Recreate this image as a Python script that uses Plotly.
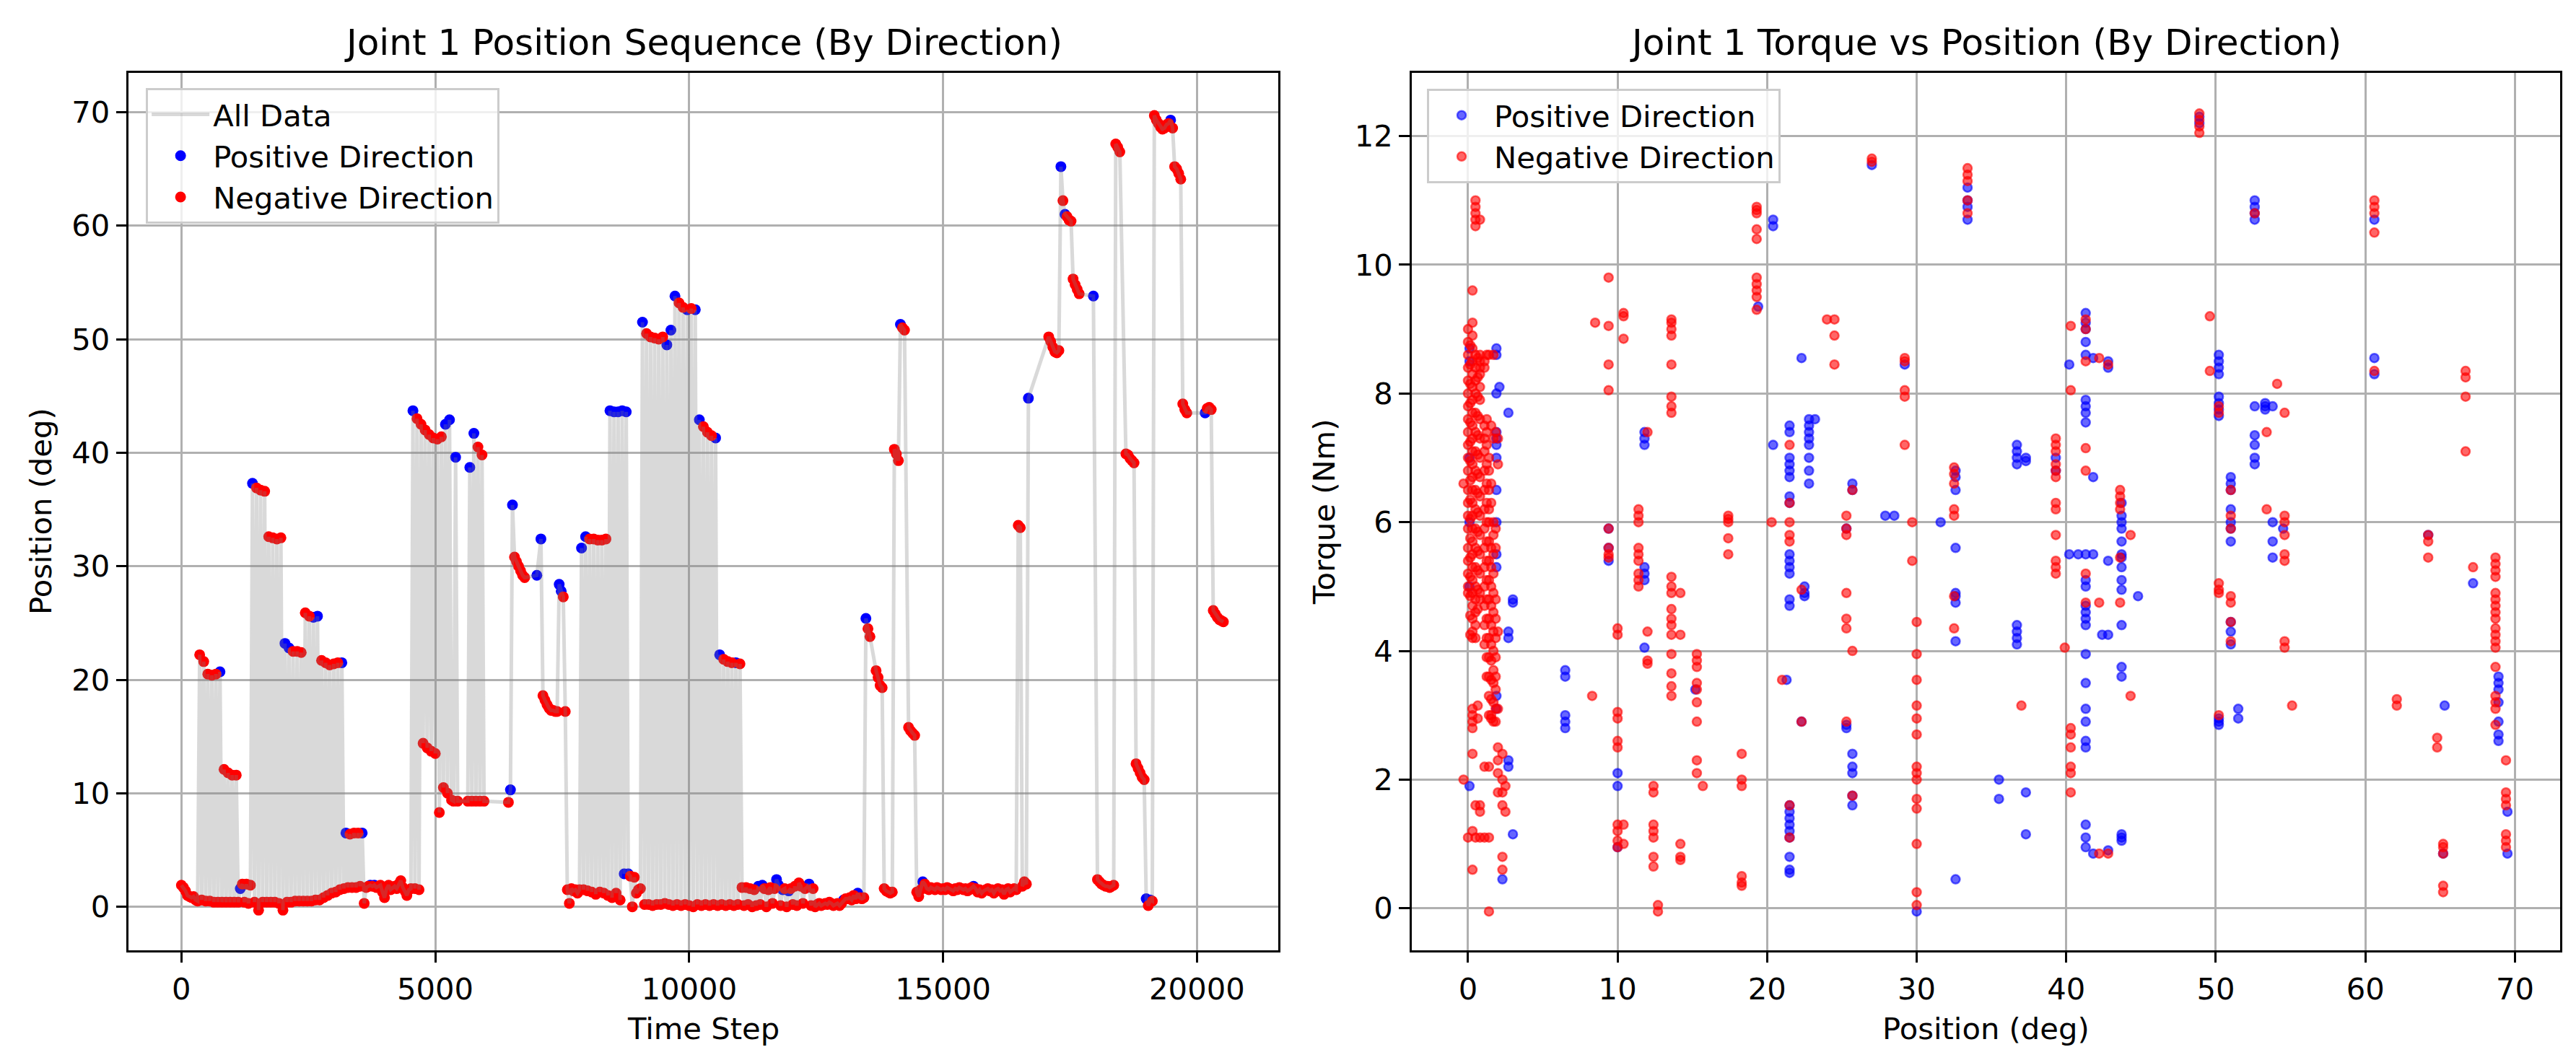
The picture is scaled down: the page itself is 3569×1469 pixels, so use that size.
import plotly.graph_objects as go

# ---- left panel: joint 1 position sampled every 40 time steps (None = no sample shown)
time_step = list(range(0, 20560, 40))
joint_position = [
    1.9, 1.7, 1.4, 1.0, 0.9, 0.8, 0.9, 0.6, 0.5, 22.2, 0.6, 21.6, 0.5, 20.5, 0.5, 20.4, 0.4, 20.5, 0.4, 20.7, 0.4, 12.1, 0.4, 11.8, 0.4,
    11.6, 0.4, 11.6, 0.4, 1.6, 2.0, 0.4, 2.0, 0.3, 1.9, 37.3, 0.4, 36.9, -0.3, 36.7, 0.4, 36.6, 0.4, 32.6, 0.4, 32.5, 0.4, 32.4, 0.3, 32.5,
    -0.3, 23.2, 0.4, 22.8, 0.4, 22.5, 0.5, 22.5, 0.5, 22.4, 0.5, 25.9, 0.5, 25.6, 0.5, 25.5, 0.6, 25.6, 0.6, 21.7, 0.8, 21.5, 1.0, 21.3, 1.2,
    21.4, 1.3, 21.5, 1.5, 21.5, 1.6, 6.5, 1.7, 6.4, 1.7, 6.5, 1.7, 6.5, 1.8, 6.5, 0.3, 1.7, 1.8, 1.9, 1.8, 1.9, 1.7, 1.8, 1.9, 1.3,
    0.8, 1.6, 1.9, 1.5, 1.7, 1.8, 1.6, 2.0, 2.3, 1.7, 1.4, 1.0, 1.5, 1.6, 43.7, 1.6, 43.0, 1.5, 42.5, 14.4, 42.0, 14.0, 41.6, 13.7, 41.3,
    13.5, 41.2, 8.3, 41.4, 10.5, 42.5, 10.0, 42.9, 9.4, 9.3, 39.6, 9.3, None, None, None, None, 9.3, 38.7, 9.3, 41.7, 9.3, 40.5, 9.3, 39.8, 9.3,
    None, None, None, None, None, None, None, None, None, None, None, 9.2, 10.3, 35.4, 30.8, 30.4, 30.0, 29.6, 29.2, 29.0, None, None, None, None, None,
    29.2, None, 32.4, 18.6, 18.2, 17.8, 17.5, 17.3, 17.3, 17.2, 17.2, 28.4, 27.8, 27.3, 17.2, 1.5, 0.3, 1.6, 1.4, 1.5, 1.2, 1.5, 31.6, 1.5, 32.6,
    1.4, 32.4, 1.3, 32.4, 1.1, 32.3, 1.3, 32.3, 1.2, 32.4, 1.0, 43.7, 0.8, 43.6, 1.2, 43.6, 0.6, 43.7, 2.9, 43.6, 2.9, 2.7, 0.0, 2.6, 1.2,
    1.5, 1.6, 51.5, 0.2, 50.5, 0.2, 50.2, 0.1, 50.1, 0.2, 50.0, 0.2, 50.2, 0.3, 49.5, 0.2, 50.8, 0.1, 53.8, 0.2, 53.2, 0.1, 52.8, 0.2, 52.6,
    0.1, 52.7, 0.0, 52.6, 0.2, 42.9, 0.1, 42.3, 0.2, 41.8, 0.1, 41.5, 0.2, 41.3, 0.1, 22.2, 0.2, 21.8, 0.1, 21.6, 0.2, 21.5, 0.1, 21.5, 0.2,
    21.4, 1.7, 0.1, 1.7, 0.2, 1.6, 0.0, 1.5, 0.1, 1.8, 0.2, 1.9, 1.6, 0.0, 1.5, 1.7, 0.3, 1.6, 2.4, 1.9, 0.1, 1.5, 1.6, 0.0, 1.4,
    1.6, 0.2, 1.8, 0.1, 2.1, 1.8, 0.3, 1.6, 1.7, 2.0, 0.1, 1.6, 0.0, 0.2, 0.3, 0.1, 0.2, 0.3, 0.2, 0.4, 0.3, 0.1, 0.2, 0.3, 0.1,
    0.3, 0.6, 0.7, 0.7, 0.8, 0.6, 1.0, 0.7, 1.2, 0.8, 0.7, 0.8, 25.4, 24.5, 23.8, None, None, 20.8, 20.2, 19.5, 19.3, 1.6, 1.4, 1.3, 1.2,
    1.3, 40.3, 39.9, 39.3, 51.3, 51.0, 50.8, None, 15.8, 15.5, 15.3, 15.1, 1.3, 0.9, 1.5, 2.2, 2.0, 1.6, 1.5, 1.7, 1.6, 1.5, 1.7, 1.6, 1.5,
    1.6, 1.5, 1.7, 1.6, 1.5, 1.4, 1.6, 1.5, 1.7, 1.6, 1.5, 1.6, 1.4, 1.5, 1.7, 1.8, 1.6, 1.3, 1.5, 1.2, 1.4, 1.5, 1.6, 1.4, 1.5,
    1.2, 1.5, 1.6, 1.4, 1.5, 1.1, 1.5, 1.6, 1.3, 1.5, 1.6, 1.5, 33.6, 33.4, 1.8, 2.2, 2.0, 44.8, None, None, None, None, None, None, None,
    None, None, 50.2, 49.8, 49.3, 48.9, 48.8, 49.0, 65.2, 62.2, 61.0, 60.8, 60.5, 60.4, 55.3, 54.8, 54.4, 54.0, None, None, None, None, None, None, 53.8,
    None, 2.4, 2.2, 2.0, 1.9, 1.8, 1.8, 1.7, 1.8, 1.9, 67.2, 66.9, 66.5, None, None, 39.9, 39.8, 39.5, 39.3, 39.1, 12.6, 12.2, 11.8, 11.4, 11.2,
    0.7, 0.1, 0.6, 0.5, 69.7, 69.3, 69.0, 68.7, 68.5, 68.6, 68.9, 69.0, 69.3, 68.6, 65.2, 65.0, 64.6, 64.1, 44.3, 43.8, 43.5, None, None, None, None,
    None, None, None, None, 43.5, 43.9, 44.0, 43.8, 26.1, 25.8, 25.5, 25.3, 25.2, 25.1,
]
# time steps whose motion direction was positive
positive_steps = [
    760, 1160, 1400, 2040, 2120, 2600, 2680, 3160, 3240, 3560, 3720, 3800, 4560, 5200, 5280,
    5400, 5680, 5760, 6480, 6520, 7000, 7080, 7440, 7480, 7880, 7960, 8440, 8520, 8600, 8680,
    8720, 8760, 8800, 9080, 9560, 9640, 9720, 9960, 10120, 10200, 10520, 10600, 10920, 11360,
    11440, 11720, 11760, 11840, 11960, 12320, 12360, 13040, 13320, 13480, 14160, 14600, 15600,
    16680, 17320, 17400, 17960, 19000, 19080, 19480, 20160,
]

# ---- right panel: torque vs position, (position, [torques]) per visited position
positive_clusters = [
    (0.1, [8.7, 8.5, 7.0, 6.0, 5.0, 1.9]),
    (1.9, [8.7, 8.6, 8.0, 7.4, 7.3, 7.2, 7.0, 6.5, 6.0, 5.5, 5.3, 3.3, 3.1]),
    (2.1, [8.1]), (2.3, [0.45]),
    (2.7, [7.7, 4.3, 4.2, 2.3, 2.2]),
    (3.0, [4.8, 4.75, 1.15]),
    (6.5, [3.7, 3.6, 3.0, 2.9, 2.8]),
    (9.4, [5.9, 5.6, 5.4]),
    (10.0, [2.1, 1.9, 0.95]),
    (11.8, [7.4, 7.3, 7.2, 5.3, 5.2, 5.1, 4.05]),
    (15.2, [3.4]), (19.4, [9.35]),
    (20.4, [10.7, 10.6, 7.2]), (21.3, [3.55]),
    (21.5, [7.5, 7.4, 7.0, 6.9, 6.8, 6.7, 6.4, 6.3, 5.5, 5.4, 5.3, 5.2, 4.8, 4.7,
            1.6, 1.5, 1.4, 1.3, 1.2, 1.1, 0.8, 0.6, 0.55]),
    (22.3, [8.55, 2.9]), (22.5, [5.0, 4.9, 4.85]),
    (22.8, [7.6, 7.5, 7.4, 7.3, 7.2, 7.0, 6.8, 6.6]), (23.2, [7.6]),
    (25.3, [5.9, 2.85, 2.8]),
    (25.7, [6.6, 6.5, 2.4, 2.2, 2.1, 1.75, 1.6]),
    (27.0, [11.55]), (27.9, [6.1]), (28.5, [6.1]), (29.2, [8.45]), (30.0, [-0.05]), (31.6, [6.0]),
    (32.6, [6.8, 6.7, 6.5, 5.6, 4.9, 4.85, 4.75, 4.15, 0.45]),
    (33.4, [11.2, 11.0, 10.9, 10.7]),
    (35.5, [2.0, 1.7]),
    (36.7, [7.2, 7.1, 7.0, 6.9, 4.4, 4.3, 4.2, 4.1]),
    (37.3, [7.0, 6.95, 1.8, 1.15]),
    (39.3, [7.0, 6.8]), (40.2, [8.45, 5.5]), (40.8, [5.5]),
    (41.3, [9.25, 9.1, 9.0, 8.8, 8.6, 7.9, 7.8, 7.7, 7.55, 5.5, 5.1, 5.0, 4.7, 4.6, 4.5, 4.4,
            3.95, 3.5, 3.1, 2.9, 2.6, 2.5, 1.3, 1.1, 0.95]),
    (41.8, [8.55, 6.7, 5.5, 0.85]), (42.4, [4.25]),
    (42.8, [8.5, 8.4, 4.25, 0.9, 5.4]),
    (43.7, [6.3, 6.1, 6.0, 5.9, 5.7, 5.5, 5.45, 5.3, 5.1, 4.95, 4.4, 3.75, 3.6, 1.15, 1.1, 1.05]),
    (44.8, [4.85]), (48.9, [12.3, 12.2]),
    (50.2, [8.6, 8.5, 8.4, 8.3, 7.95, 7.85, 7.75, 7.65, 2.95, 2.9, 2.85]),
    (51.0, [6.7, 6.6, 6.5, 6.2, 6.0, 5.9, 5.7, 4.45, 4.3, 4.1]),
    (51.5, [3.1, 2.95]),
    (52.6, [11.0, 10.9, 10.8, 10.7, 7.8, 7.35, 7.2, 7.0, 6.9]),
    (53.3, [7.85, 7.8, 7.75]), (53.8, [7.8, 6.0, 5.7, 5.45]), (54.5, [5.9]),
    (60.6, [10.7, 8.55, 8.3]), (64.2, [5.8]), (65.2, [0.85]), (65.3, [3.15]), (67.2, [5.05]),
    (68.9, [3.6, 3.5, 3.4, 3.2, 2.9, 2.7, 2.6]), (69.5, [1.5, 0.85]),
]
negative_clusters = [
    (-0.3, [6.6, 2.0]),
    (0.0, [9.0, 8.8, 8.6, 8.4, 8.2, 8.0, 7.8, 7.6, 7.4, 7.2, 7.0, 6.8, 6.5, 6.3, 6.1, 5.9, 5.6,
           5.4, 5.2, 5.0, 4.9, 1.1]),
    (0.15, [8.75, 8.45, 8.15, 7.85, 7.55, 7.25, 6.95, 6.65, 6.35, 6.05, 5.75, 5.45, 5.15, 4.85,
            4.55, 4.25]),
    (0.3, [9.6, 9.1, 8.9, 8.7, 8.5, 8.3, 8.1, 7.9, 7.7, 7.5, 7.3, 7.1, 6.9, 6.7, 6.5, 6.3, 6.1,
           5.9, 5.7, 5.5, 5.3, 5.1, 4.9, 4.7, 4.5, 4.3, 4.2, 3.1, 3.0, 2.9, 2.8, 2.4, 0.6, 1.2]),
    (0.5, [11.0, 10.9, 10.8, 10.7, 10.6, 8.6, 8.4, 8.2, 8.0, 7.7, 7.4, 7.1, 6.8, 6.5, 6.2, 5.9,
           5.6, 5.3, 5.0, 4.8, 4.6, 4.4, 4.2, 1.6, 1.1]),
    (0.65, [8.55, 8.25, 7.95, 7.65, 7.35, 7.05, 6.75, 6.45, 6.15, 5.85, 5.55, 5.25, 4.95, 4.65,
            3.15, 2.95]),
    (0.8, [10.7, 8.6, 8.5, 8.4, 8.3, 8.1, 7.9, 7.6, 7.3, 7.0, 6.7, 6.4, 6.1, 5.8, 5.5, 5.2, 4.9,
           4.8, 1.6, 1.5, 1.1]),
    (1.1, [8.5, 8.4, 7.5, 7.3, 7.1, 6.8, 6.5, 6.2, 5.9, 5.6, 5.3, 5.0, 4.7, 4.4, 4.1, 2.2, 1.1]),
    (1.25, [8.6, 7.6, 7.4, 7.2, 6.9, 6.6, 6.3, 6.0, 5.7, 5.4, 5.1, 4.8, 4.5, 4.2, 3.9, 3.6]),
    (1.4, [8.6, 7.0, 6.8, 6.5, 6.2, 6.0, 5.7, 5.4, 5.1, 4.8, 4.5, 4.2, 3.9, 3.6, 3.3, 3.0, 2.2,
           1.1, -0.05]),
    (1.55, [7.5, 6.6, 6.3, 5.6, 5.3, 5.0, 4.7, 4.4, 4.1, 3.85, 3.55, 3.25, 3.0, 2.95]),
    (1.7, [8.6, 7.3, 6.0, 5.8, 5.5, 5.2, 4.9, 4.6, 4.3, 4.0, 3.7, 3.5, 3.2, 2.9]),
    (1.85, [7.4, 5.9, 5.6, 4.8, 4.5, 4.2, 3.9, 3.6, 3.4, 3.1, 2.9]),
    (2.0, [7.3, 6.9, 4.3, 3.1, 2.5, 2.3, 2.1, 1.8]),
    (2.3, [2.4, 2.0, 1.8, 1.6, 0.8, 0.6]), (2.5, [1.9, 1.5]),
    (8.3, [3.3]), (8.5, [9.1]),
    (9.4, [9.8, 9.05, 8.45, 8.05, 5.9, 5.6, 5.5, 5.45]),
    (10.0, [4.35, 4.25, 3.05, 2.95, 2.6, 2.5, 1.3, 1.2, 1.05, 0.95]),
    (10.4, [9.25, 9.2, 8.85, 1.3, 1.0]),
    (11.4, [6.2, 6.1, 6.0, 5.6, 5.5, 5.4, 5.2, 5.1, 5.0]),
    (12.0, [4.3, 3.85, 3.8, 7.4]),
    (12.4, [1.9, 1.8, 1.3, 1.2, 1.1, 0.8, 0.65]), (12.7, [0.05, -0.05]),
    (13.6, [9.15, 9.1, 9.0, 8.9, 8.45, 7.95, 7.8, 7.7, 5.15, 5.0, 4.9, 4.65, 4.5, 4.4, 4.25,
            3.95, 3.65, 3.45, 3.3]),
    (14.2, [4.25, 4.9, 1.0, 0.8, 0.75]),
    (15.3, [3.95, 3.85, 3.75, 3.5, 3.4, 3.2, 2.9, 2.3, 2.1]), (15.7, [1.9]),
    (17.4, [6.1, 6.05, 6.0, 5.75, 5.5]),
    (18.3, [2.4, 2.0, 1.9, 0.5, 0.4, 0.35]),
    (19.3, [10.9, 10.85, 10.8, 10.55, 10.4, 9.8, 9.7, 9.6, 9.5, 9.3]),
    (20.3, [6.0]), (21.0, [3.55]),
    (21.5, [7.2, 6.3, 6.0, 5.8, 5.7, 1.6, 1.1]),
    (22.3, [2.9, 4.95]), (24.0, [9.15]), (24.5, [9.15, 8.9, 8.45]),
    (25.3, [6.1, 5.9, 5.8, 4.9, 4.5, 4.35, 2.9]), (25.7, [6.5, 4.0, 1.75]),
    (27.0, [11.65, 11.6]),
    (29.2, [8.55, 8.5, 8.05, 7.95, 7.2]), (29.7, [6.0, 5.4]),
    (30.0, [4.45, 3.95, 3.55, 3.15, 2.95, 2.7, 2.2, 2.1, 2.0, 1.7, 1.55, 1.0, 0.25, 0.05]),
    (32.5, [6.85, 6.75, 6.6, 6.2, 6.1, 4.85, 4.35]),
    (33.4, [11.5, 11.4, 11.3, 11.0, 10.8]),
    (37.0, [3.15]),
    (39.3, [7.3, 7.2, 7.1, 6.9, 6.8, 6.7, 6.3, 6.2, 5.8, 5.4, 5.3, 5.2]),
    (39.9, [4.05]),
    (40.3, [2.8, 2.7, 2.5, 2.2, 2.1, 1.8, 9.05, 8.05]),
    (41.3, [9.15, 9.0, 8.5, 7.15, 6.8, 5.2, 4.75]),
    (42.2, [8.55, 4.75, 0.85]), (42.8, [8.45, 0.85]),
    (43.6, [6.5, 6.4, 6.3, 6.2, 5.45, 4.75]), (44.3, [5.8, 3.3]),
    (48.9, [12.35, 12.25, 12.15, 12.05]), (49.6, [9.2, 8.35]),
    (50.2, [7.8, 7.7, 5.05, 4.95, 4.9, 3.0]),
    (51.0, [6.5, 6.1, 5.9, 4.85, 4.75, 4.45, 4.15]),
    (52.6, [10.8]), (53.4, [7.4, 6.2]), (54.1, [8.15]),
    (54.6, [7.7, 6.1, 6.0, 5.8, 5.5, 5.4, 4.15, 4.05]), (55.1, [3.15]),
    (60.6, [11.0, 10.9, 10.8, 10.5, 8.35]), (62.1, [3.25, 3.15]),
    (64.2, [5.8, 5.7, 5.45]), (64.8, [2.65, 2.5]),
    (65.2, [1.0, 0.95, 0.85, 0.35, 0.25]),
    (66.7, [8.35, 8.25, 7.95, 7.1]), (67.2, [5.3]),
    (68.7, [5.45, 5.35, 5.25, 5.15, 4.9, 4.8, 4.7, 4.6, 4.5, 4.35, 4.25, 4.15, 4.05, 3.75, 3.3,
            3.2, 3.1, 2.85]),
    (69.4, [2.3, 1.8, 1.7, 1.6, 1.15, 1.05, 0.95]),
]

assert len(time_step) == len(joint_position)

FONT = "DejaVu Sans"
TICK = 41.7


def split_by_direction():
    pos_t, pos_p, neg_t, neg_p = [], [], [], []
    positive = set(positive_steps)
    for t, p in zip(time_step, joint_position):
        if p is None:
            continue
        if t in positive:
            pos_t.append(t)
            pos_p.append(p)
        else:
            neg_t.append(t)
            neg_p.append(p)
    return pos_t, pos_p, neg_t, neg_p


def flatten(clusters):
    xs, ys = [], []
    for x, torques in clusters:
        for y in torques:
            xs.append(x)
            ys.append(y)
    return xs, ys


fig = go.Figure()

pos_t, pos_p, neg_t, neg_p = split_by_direction()
fig.add_trace(go.Scatter(x=pos_t, y=pos_p, mode='markers', name='Positive Direction',
                         marker=dict(color='blue', size=15, line=dict(width=0)),
                         xaxis='x', yaxis='y', legend='legend', legendrank=2))
fig.add_trace(go.Scatter(x=neg_t, y=neg_p, mode='markers', name='Negative Direction',
                         marker=dict(color='red', size=15, line=dict(width=0)),
                         xaxis='x', yaxis='y', legend='legend', legendrank=3))
# the line sits above the dots, as in the original
fig.add_trace(go.Scatter(x=time_step, y=joint_position, mode='lines', name='All Data',
                         connectgaps=True,
                         line=dict(color='rgba(128,128,128,0.3)', width=5),
                         xaxis='x', yaxis='y', legend='legend', legendrank=1))

bx, by = flatten(positive_clusters)
rx, ry = flatten(negative_clusters)
fig.add_trace(go.Scatter(x=bx, y=by, mode='markers', name='Positive Direction',
                         marker=dict(color='rgba(0,0,255,0.6)', size=12,
                                     line=dict(color='rgba(0,0,255,0.6)', width=2.5)),
                         xaxis='x2', yaxis='y2', legend='legend2'))
fig.add_trace(go.Scatter(x=rx, y=ry, mode='markers', name='Negative Direction',
                         marker=dict(color='rgba(255,0,0,0.6)', size=12,
                                     line=dict(color='rgba(255,0,0,0.6)', width=2.5)),
                         xaxis='x2', yaxis='y2', legend='legend2'))

axis_style = dict(showgrid=True, gridcolor='#b0b0b0', gridwidth=3.3, zeroline=False,
                  showline=True, linecolor='black', linewidth=3.3, mirror=True,
                  ticks='outside', ticklen=14.6, tickwidth=3.3, tickcolor='black',
                  tickformat='d',
                  tickfont=dict(family=FONT, size=TICK, color='black'))

legend_style = dict(xanchor='left', yanchor='top', bgcolor='rgba(255,255,255,0.8)',
                    bordercolor='#cccccc', borderwidth=3, itemwidth=80,
                    font=dict(family=FONT, size=TICK, color='black'))

fig.update_layout(
    width=3569, height=1469,
    margin=dict(l=0, r=0, t=0, b=0),
    paper_bgcolor='white', plot_bgcolor='white',
    font=dict(family=FONT, color='black'),
    xaxis=dict(domain=[0.04777, 0.49397], range=[-1035, 21600],
               tickvals=[0, 5000, 10000, 15000, 20000], anchor='y', **axis_style),
    yaxis=dict(domain=[0.1091, 0.9366], range=[-3.82, 73.45],
               tickvals=[0, 10, 20, 30, 40, 50, 60, 70], anchor='x', **axis_style),
    xaxis2=dict(domain=[0.54581, 0.99159], range=[-3.76, 73.02],
                tickvals=[0, 10, 20, 30, 40, 50, 60, 70], anchor='y2', **axis_style),
    yaxis2=dict(domain=[0.1091, 0.9366], range=[-0.65, 12.98],
                tickvals=[0, 2, 4, 6, 8, 10, 12], anchor='x2', **axis_style),
    legend=dict(x=0.0544, y=0.9224, **legend_style),
    legend2=dict(x=0.5517, y=0.9217, **legend_style),
    showlegend=True,
)

texts = [
    ('Joint 1 Position Sequence (By Direction)', 0.2709, 0.9653, 50, 0),
    ('Joint 1 Torque vs Position (By Direction)', 0.7687, 0.9653, 50, 0),
    ('Time Step', 0.2709, 0.035, TICK, 0),
    ('Position (deg)', 0.7687, 0.035, TICK, 0),
    ('Position (deg)', 0.01345, 0.5228, TICK, -90),
    ('Torque (Nm)', 0.5116, 0.5228, TICK, -90),
]
for text, x, y, size, angle in texts:
    fig.add_annotation(text=text, x=x, y=y, xref='paper', yref='paper',
                       xanchor='center', yanchor='middle', showarrow=False,
                       textangle=angle, font=dict(family=FONT, size=size, color='black'))

fig.write_html("out.html")
